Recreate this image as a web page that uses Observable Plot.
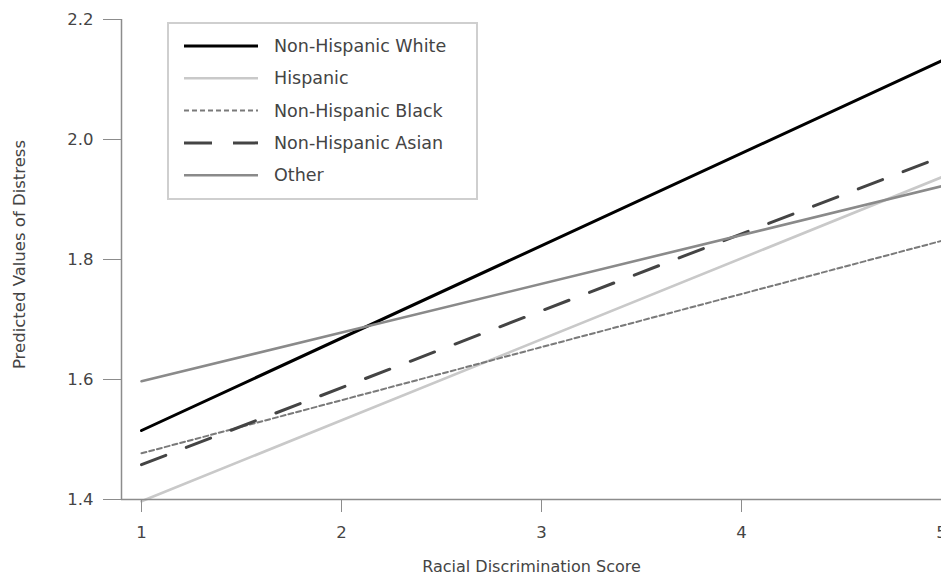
<!DOCTYPE html>
<html>
<head>
<meta charset="utf-8">
<script src="https://cdn.jsdelivr.net/npm/d3@7"></script>
<script src="https://cdn.jsdelivr.net/npm/@observablehq/plot@0.6"></script>
<style>
  html, body { margin: 0; padding: 0; background: #fff; }
  #wrap { position: relative; width: 941px; height: 580px; overflow: hidden; font-family: "DejaVu Sans", Verdana, sans-serif; }
  #legend { position: absolute; left: 167px; top: 22px; width: 307px; height: 174px; border: 2px solid #cfcfcf; background: #fff; box-sizing: content-box; }
</style>
</head>
<body>
<div id="wrap"></div>
<script>
// Data
const series = ["Non-Hispanic White", "Hispanic", "Non-Hispanic Black", "Non-Hispanic Asian", "Other"];
const xValues = [1, 5];
const startValues = [1.515, 1.397, 1.477, 1.458, 1.597];
const endValues = [2.131, 1.937, 1.831, 1.971, 1.922];
const xTicks = [1, 2, 3, 4, 5];
const yTicks = [1.4, 1.6, 1.8, 2.0, 2.2];
const xLabel = "Racial Discrimination Score";
const yLabel = "Predicted Values of Distress";

// Styles
const styles = {
  "Non-Hispanic White": {stroke: "#000000", width: 3, dash: null},
  "Hispanic": {stroke: "#c9c9c9", width: 2.6, dash: null},
  "Non-Hispanic Black": {stroke: "#7a7a7a", width: 2, dash: "5,3"},
  "Non-Hispanic Asian": {stroke: "#444444", width: 3, dash: "26,22"},
  "Other": {stroke: "#8a8a8a", width: 2.6, dash: null}
};

const rows = [];
series.forEach((s, i) => {
  rows.push({series: s, x: xValues[0], y: startValues[i]});
  rows.push({series: s, x: xValues[1], y: endValues[i]});
});

const lineMarks = series.map(s => Plot.line(rows.filter(d => d.series === s), {
  x: "x", y: "y",
  stroke: styles[s].stroke,
  strokeWidth: styles[s].width,
  strokeDasharray: styles[s].dash
}));

const plot = Plot.plot({
  width: 941,
  height: 580,
  marginLeft: 121,
  marginRight: 0,
  marginTop: 19,
  marginBottom: 81,
  style: {fontFamily: "DejaVu Sans, Verdana, sans-serif", fontSize: "16px", color: "#444", background: "#fff"},
  x: {domain: [0.9, 5], ticks: xTicks},
  y: {domain: [1.4, 2.2], ticks: yTicks},
  marks: [
    ...lineMarks,
    Plot.ruleY([1.4], {x1: 0.9, x2: 5, stroke: "#8c8c8c", strokeWidth: 1.5}),
    Plot.ruleX([0.9], {y1: 1.4, y2: 2.2, stroke: "#8c8c8c", strokeWidth: 1.5}),
    Plot.axisX({ticks: xTicks, tickSize: 13, tickPadding: 14, tickFormat: d3.format("d"), stroke: "#8c8c8c", fill: "#444", fontSize: 16.5, label: null}),
    Plot.axisY({ticks: yTicks, tickSize: 18, tickPadding: 10, tickFormat: d3.format(".1f"), stroke: "#8c8c8c", fill: "#444", fontSize: 16.5, label: null}),
    Plot.text([xLabel], {frameAnchor: "bottom", dy: 72, fill: "#444", fontSize: 16}),
    Plot.text([yLabel], {frameAnchor: "left", textAnchor: "middle", dx: -102, dy: -5, rotate: -90, fill: "#444", fontSize: 16.5})
  ]
});
document.getElementById("wrap").appendChild(plot);

// Legend
const legend = d3.select("#wrap").append("div").attr("id", "legend");
const lsvg = legend.append("svg").attr("width", 307).attr("height", 174)
  .style("font-family", "DejaVu Sans, Verdana, sans-serif").style("font-size", "17.5px");
series.forEach((s, i) => {
  const y = 22 + i * 32.3;
  lsvg.append("line").attr("x1", 15).attr("x2", 89).attr("y1", y).attr("y2", y)
    .attr("stroke", styles[s].stroke).attr("stroke-width", styles[s].width)
    .attr("stroke-dasharray", styles[s].dash === "26,22" ? "28,21" : styles[s].dash);
  lsvg.append("text").attr("x", 105).attr("y", y).attr("dy", "0.35em").attr("fill", "#444").text(s);
});
</script>
</body>
</html>
